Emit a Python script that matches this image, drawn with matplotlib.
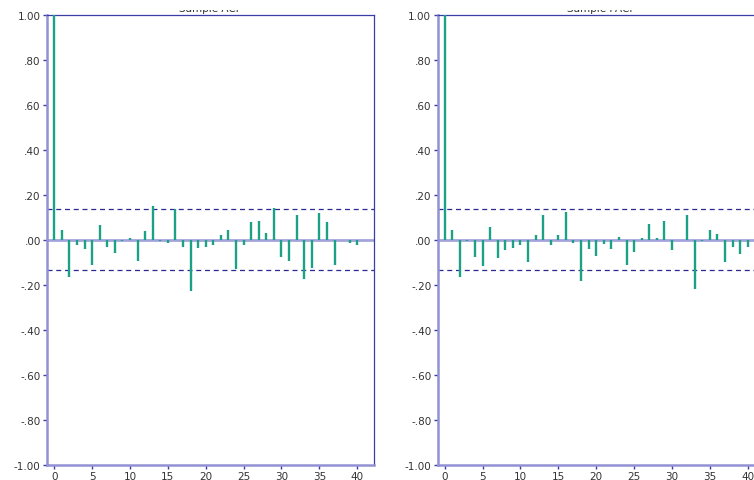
import matplotlib
matplotlib.use("Agg")
import matplotlib.pyplot as plt
from matplotlib.patches import Rectangle
from matplotlib.ticker import FuncFormatter

# values
lags = list(range(41))
acf = [1.0, 0.044, -0.164, -0.022, -0.043, -0.114, 0.066, -0.030, -0.060, -0.007,
       0.006, -0.093, 0.040, 0.150, -0.007, -0.013, 0.136, -0.032, -0.229, -0.037,
       -0.030, -0.022, 0.022, 0.044, -0.128, -0.022, 0.080, 0.084, 0.031, 0.140,
       -0.078, -0.093, 0.109, -0.176, -0.125, 0.119, 0.080, -0.114, 0.0, -0.016,
       -0.024]
pacf = [1.0, 0.044, -0.167, -0.007, -0.075, -0.118, 0.058, -0.083, -0.047, -0.037,
        -0.022, -0.100, 0.022, 0.111, -0.022, 0.022, 0.125, -0.015, -0.181, -0.040,
        -0.072, -0.019, -0.040, 0.013, -0.114, -0.055, 0.009, 0.072, 0.006, 0.084,
        -0.047, 0.0, 0.111, -0.217, -0.007, 0.044, 0.027, -0.100, -0.032, -0.065,
        -0.030]
conf = 0.135
titles = ["Sample ACF", "Sample PACF"]
xticks = [0, 5, 10, 15, 20, 25, 30, 35, 40]
yticks = [1.0, 0.8, 0.6, 0.4, 0.2, 0.0, -0.2, -0.4, -0.6, -0.8, -1.0]

BAR = "#1ba186"
LIGHT = "#9191d4"
DARK = "#3c3ca8"
DASH = "#2a2a96"


def ylab(v, pos):
    s = "%.2f" % v
    if abs(v) < 1:
        s = s.replace("0.", ".")
    return s


W, H = 754, 481
fig = plt.figure(figsize=(W / 100, H / 100), dpi=100)

ax_w = (374.3 - 47.0) / W
ax_b = (H - 466.0) / H
ax_h = (466.0 - 15.5) / H
lefts = [47.0 / W, 437.5 / W]

for left, vals, title in zip(lefts, [acf, pacf], titles):
    ax = fig.add_axes([left, ax_b, ax_w, ax_h])
    ax.set_xlim(-0.95, 42.25)
    ax.set_ylim(-1.0, 1.0)

    ax.axhline(0, color="#a3a3dc", lw=2.0, zorder=1)
    for c in (conf, -conf):
        ax.axhline(c, color=DASH, lw=0.9, ls=(0, (4, 3)), zorder=2)
    ax.vlines(lags, 0, vals, color=BAR, lw=1.7, zorder=3)

    for side in ("left", "bottom"):
        ax.spines[side].set_color(LIGHT)
        ax.spines[side].set_linewidth(1.8)
    for side in ("top", "right"):
        ax.spines[side].set_color(DARK)
        ax.spines[side].set_linewidth(0.9)

    ax.set_xticks(xticks)
    ax.set_yticks(yticks)
    ax.yaxis.set_major_formatter(FuncFormatter(ylab))
    ax.tick_params(axis="both", direction="out", length=3, width=1,
                   color=DARK, labelcolor="#333333", labelsize=7.5, pad=1.5)

    # title sits mostly above the cropped top edge of the picture
    fig.text(left + ax_w / 2, 1 - 12.0 / H, title, ha="center",
             va="baseline", fontsize=7.5, color="#333333")

# the source image is cut just above the title baseline
fig.patches.append(Rectangle((0, 1 - 10.8 / H), 1, 10.8 / H,
                             transform=fig.transFigure, facecolor="white",
                             edgecolor="none", zorder=10))

fig.savefig("out.png", dpi=100)
